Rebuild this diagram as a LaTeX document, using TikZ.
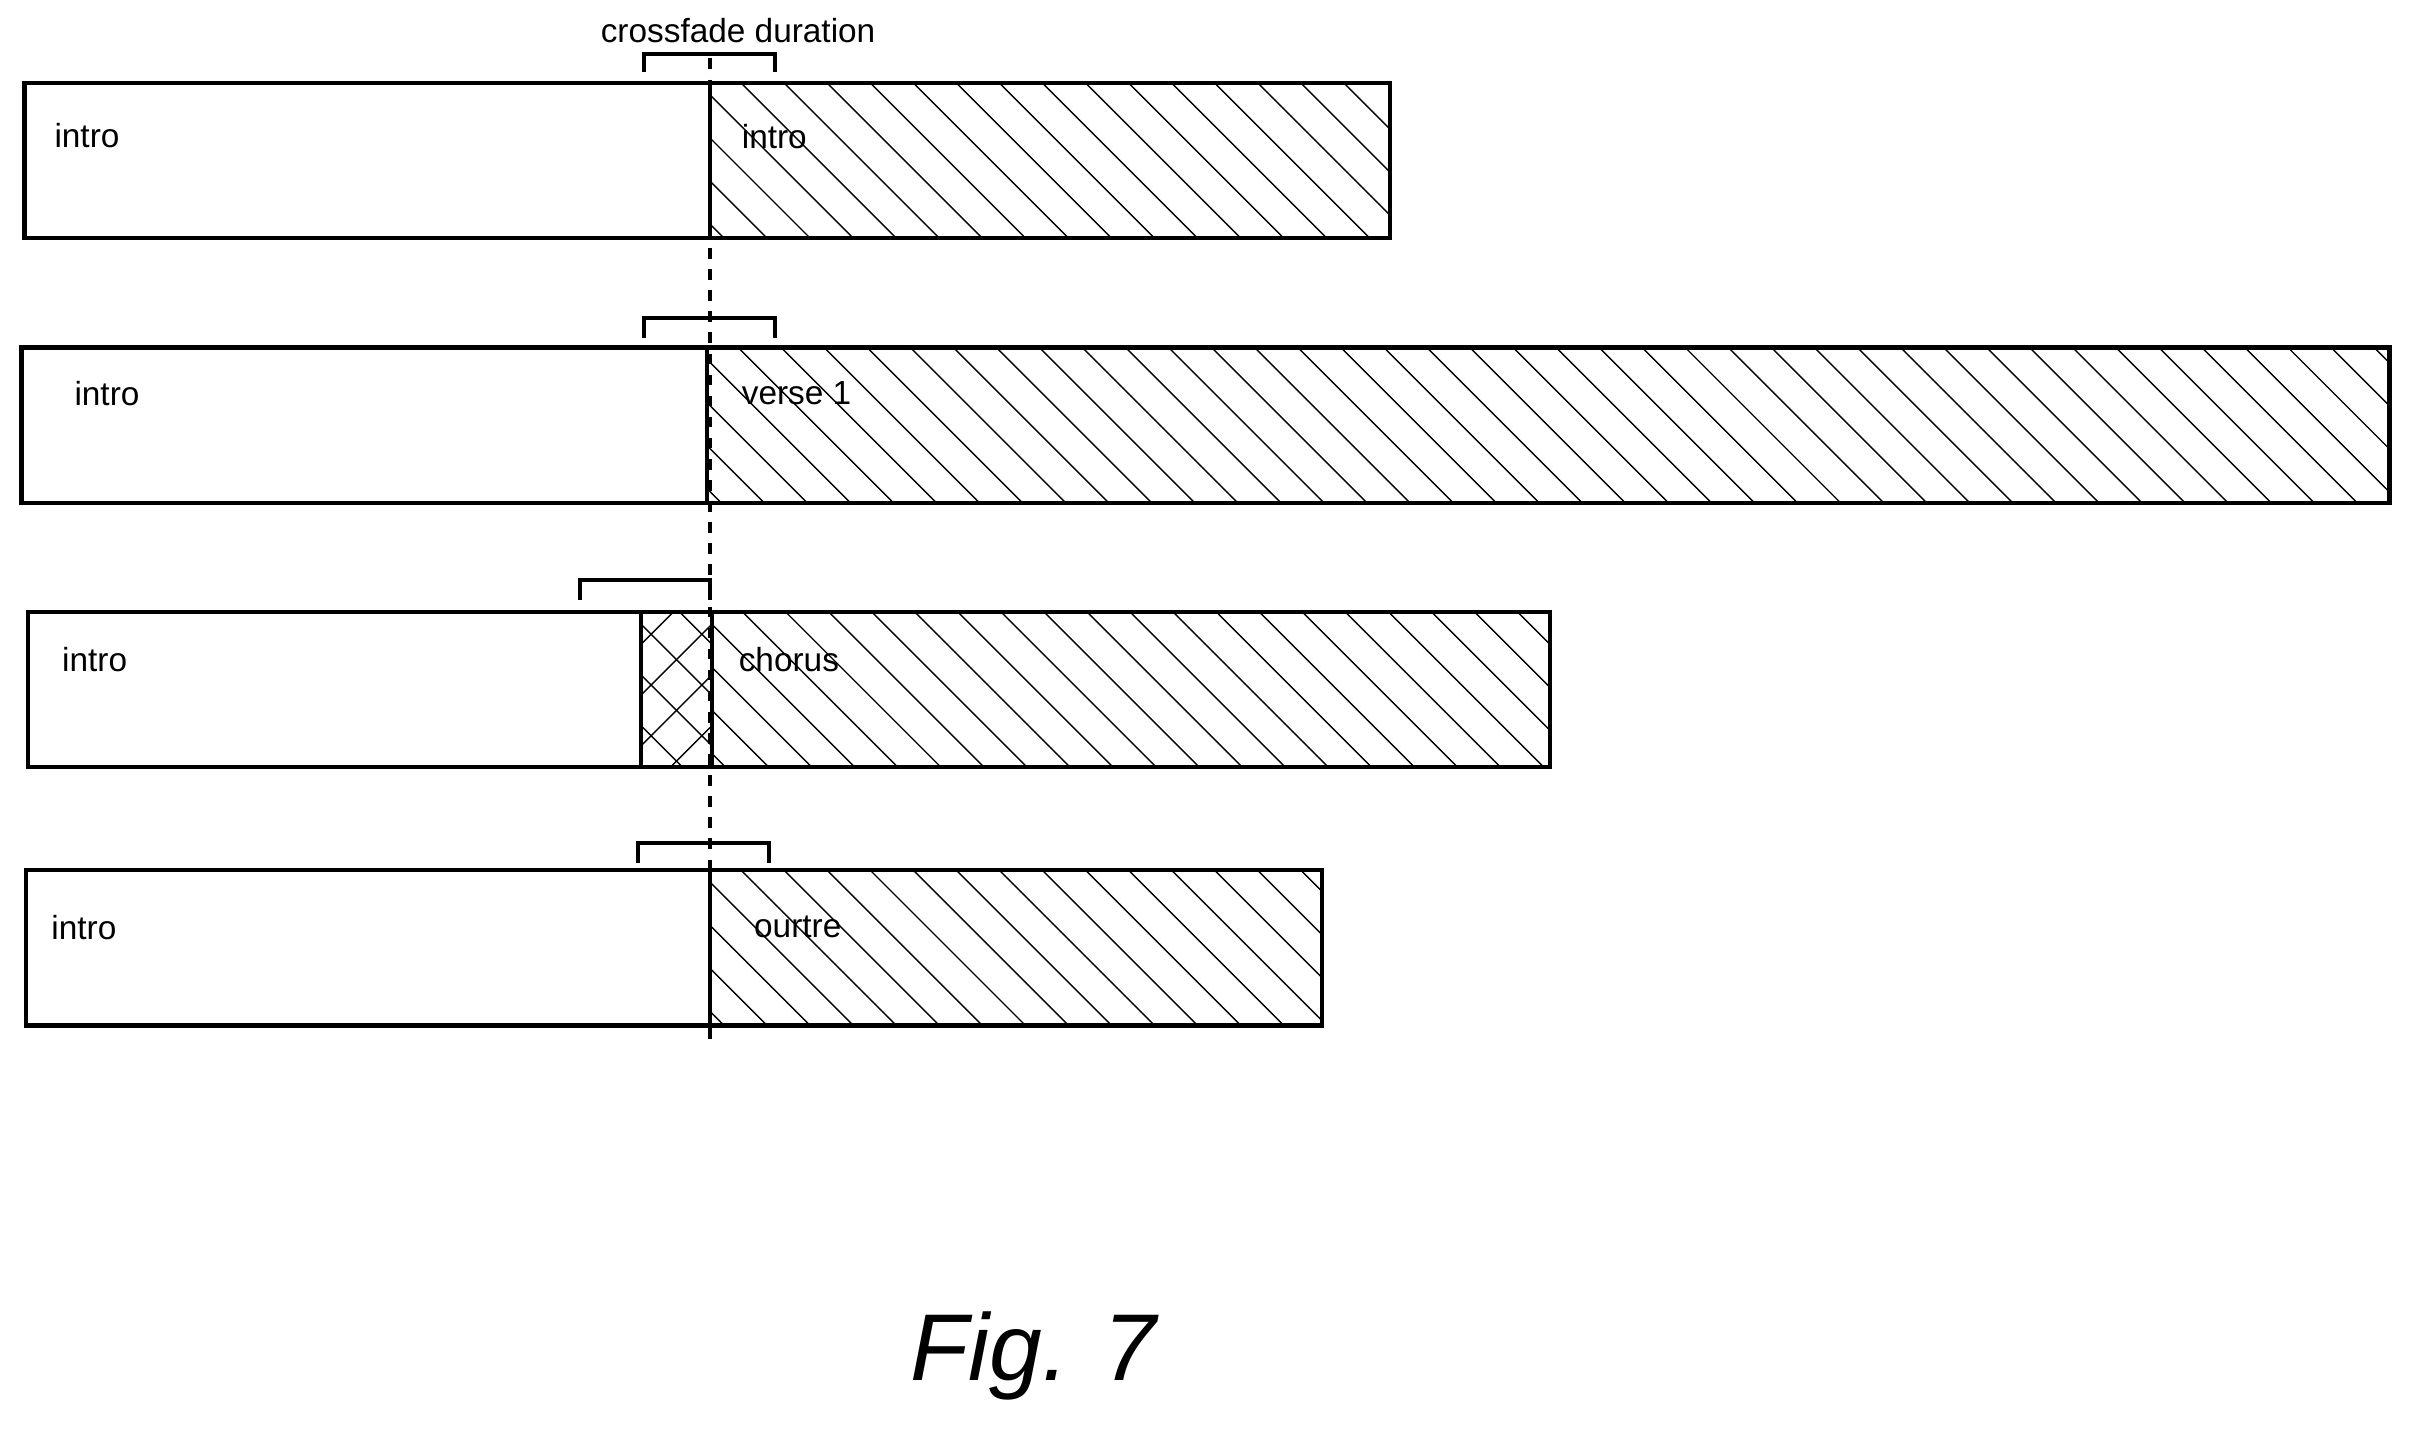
\documentclass[tikz,border=0pt]{standalone}
\usepackage{fontspec}
\setmainfont{Liberation Sans}
\begin{document}
\begin{tikzpicture}[x=0.015376cm,y=-0.015376cm,
  box/.style={draw,line width=1.2pt},
  hat/.style={line width=0.4pt},
  brk/.style={draw,line width=1.2pt},
  lbl/.style={anchor=west,font=\fontsize{9.5pt}{11pt}\selectfont,inner sep=0pt}]
\useasboundingbox (0,0) rectangle (1568,932);
\newcommand{\hatchrect}[4]{%
  \begin{scope}
  \clip (#1,#2) rectangle (#3,#4);
  \foreach \i in {-120,-92,...,1600} {\draw[hat] (#1+\i,#2) -- ++(101,101);}
  \end{scope}}
% Row 1
\hatchrect{462}{54}{904}{155}
\draw[box] (16,54) rectangle (904,155);
\draw[box] (462,54) -- (462,155);
\node[lbl] (t1a) at (35,88) {intro};
\node[lbl] (t1b) at (482,89) {intro};
\draw[brk] (419,47) -- (419,35) -- (504,35) -- (504,47);
\node[font=\fontsize{9.5pt}{11pt}\selectfont] (cf) at (480,20) {crossfade duration};
% Row 2
\hatchrect{460}{226}{1554}{327}
\draw[box] (14,226) rectangle (1554,327);
\draw[box] (460,226) -- (460,327);
\node[lbl] (t2a) at (48,256) {intro};
\node[lbl] (t2b) at (482,256) {verse 1};
\draw[brk] (419,220) -- (419,207) -- (504,207) -- (504,220);
% Row 3
\hatchrect{463}{398}{1008}{499}
\begin{scope}
\clip (417,398) rectangle (463,499);
\foreach \i in {-140,-107,...,100} {\draw[hat] (417+\i,398) -- ++(101,101); \draw[hat] (463-\i,398) -- ++(-101,101);}
\end{scope}
\draw[box] (18,398) rectangle (1008,499);
\draw[box] (417,398) -- (417,499);
\draw[box] (463,398) -- (463,499);
\node[lbl] (t3a) at (40,429) {intro};
\node[lbl] (t3b) at (480,429) {chorus};
\draw[brk] (377,390) -- (377,377) -- (462,377) -- (462,390);
% Row 4
\hatchrect{462}{566}{860}{667}
\draw[box] (17,566) rectangle (860,667);
\draw[box] (462,566) -- (462,667);
\node[lbl] (t4a) at (33,603) {intro};
\node[lbl] (t4b) at (490,603) {ourtre};
\draw[brk] (415,561) -- (415,548) -- (500,548) -- (500,561);
% dotted line
\coordinate (d1) at (462,38);
\coordinate (d2) at (462,680);
\draw[line width=1.2pt,dash pattern=on 3pt off 3pt] (d1) -- (d2);
% caption
\node[font=\fontsize{27pt}{30pt}\selectfont\itshape] (fig) at (672,882) {Fig. 7};
\end{tikzpicture}
\end{document}
